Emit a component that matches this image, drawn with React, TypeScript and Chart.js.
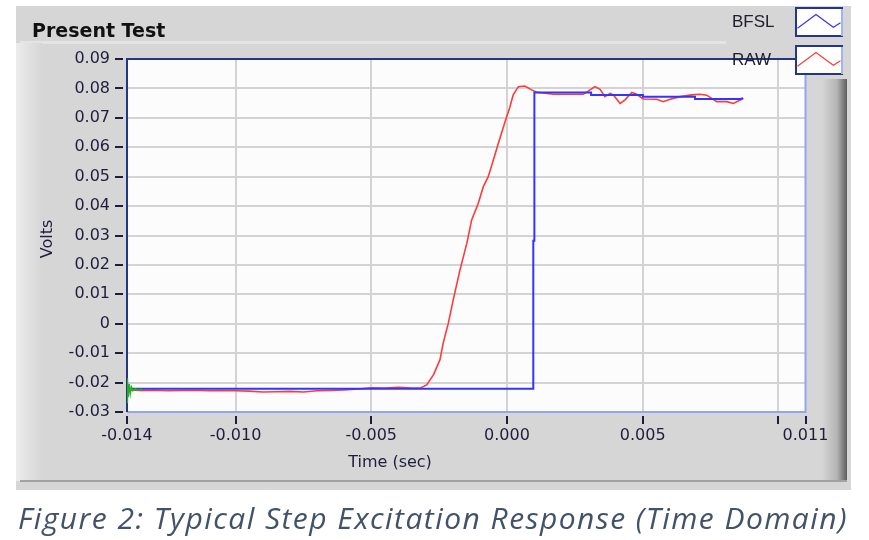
import React, { useEffect, useRef } from 'react';
import { Chart, registerables } from 'chart.js';

Chart.register(...registerables);

// ---- axis ticks ----
const xTickValues = [-0.014, -0.01, -0.005, 0.0, 0.005, 0.01, 0.011];
const xTickLabels = ['-0.014', '-0.010', '-0.005', '0.000', '0.005', '', '0.011'];
const yTickValues = [-0.03, -0.02, -0.01, 0, 0.01, 0.02, 0.03, 0.04, 0.05, 0.06, 0.07, 0.08, 0.09];
const yTickLabels = ['-0.03', '-0.02', '-0.01', '0', '0.01', '0.02', '0.03', '0.04', '0.05', '0.06', '0.07', '0.08', '0.09'];

// ---- series ----
const seriesNames = ['BFSL', 'RAW'];

const rawTime = [
  -0.014, -0.0135, -0.013, -0.0125, -0.012, -0.0115, -0.011, -0.0105, -0.01, -0.0095, -0.009, -0.0085,
  -0.008, -0.0075, -0.007, -0.0065, -0.006, -0.0055, -0.005, -0.0045, -0.004, -0.0035, -0.0032, -0.00296,
  -0.00271, -0.00247, -0.00235, -0.00216, -0.00198, -0.00173, -0.00148, -0.0013, -0.00106, -0.00087,
  -0.00069, -0.0005, -0.00032, -0.00007, 0.00011, 0.00023, 0.00042, 0.00066, 0.00091, 0.0011, 0.00171,
  0.00281, 0.00306, 0.00324, 0.00343, 0.00361, 0.0038, 0.00392, 0.00417, 0.00435, 0.0046, 0.00478,
  0.00502, 0.00552, 0.00576, 0.00601, 0.00638, 0.00681, 0.00711, 0.00736, 0.00773, 0.0081, 0.00834,
  0.00852, 0.00871,
];
const rawVolts = [
  -0.0225, -0.0227, -0.0226, -0.0228, -0.0227, -0.0226, -0.0228, -0.0227, -0.0228, -0.0229, -0.0232, -0.0231,
  -0.023, -0.0232, -0.0228, -0.0227, -0.0225, -0.0222, -0.0218, -0.0219, -0.0216, -0.0219, -0.0219, -0.0208,
  -0.0174, -0.0123, -0.0066, 0.0002, 0.0081, 0.0183, 0.0273, 0.0353, 0.0409, 0.0466,
  0.05, 0.0557, 0.0613, 0.0687, 0.0738, 0.0778, 0.0806, 0.0808, 0.0795, 0.0787, 0.078,
  0.078, 0.0795, 0.0806, 0.0797, 0.0772, 0.0783, 0.0778, 0.0749, 0.0761, 0.0786, 0.078,
  0.0764, 0.0763, 0.0755, 0.0763, 0.0772, 0.0778, 0.078, 0.0777, 0.0755, 0.0755, 0.0749,
  0.0757, 0.0766,
];

const bfslTime = [-0.014, 0.00097, 0.00097, 0.00101, 0.00101, 0.0031, 0.0031, 0.00501, 0.00501, 0.00693, 0.00693, 0.0086, 0.0087];
const bfslVolts = [-0.0221, -0.0221, 0.0282, 0.0282, 0.0786, 0.0786, 0.0778, 0.0778, 0.0772, 0.0772, 0.0764, 0.0764, 0.0767];

const ringTime = [-0.014, -0.01399, -0.01398, -0.01396, -0.01392, -0.01388, -0.01384, -0.01378, -0.0137, -0.0136, -0.01345];
const ringVolts = [-0.0185, -0.027, -0.019, -0.025, -0.0205, -0.0238, -0.0215, -0.0228, -0.0221, -0.0225, -0.0223];

const TEXT_COLOR = '#1e1e3c';
const TICK_FONT = '"DejaVu Sans", sans-serif';

const toPoints = (xs: number[], ys: number[]) => xs.map((x, i) => ({ x, y: ys[i] }));

const panelPlugin = {
  id: 'labviewPanel',
  beforeDraw(chart: any) {
    const { ctx, chartArea: a } = chart;
    ctx.save();
    ctx.fillStyle = '#ffffff';
    ctx.fillRect(0, 0, chart.width, chart.height);
    ctx.fillStyle = '#d6d6d6';
    ctx.fillRect(16, 6, 835, 484);
    // frame top highlight
    ctx.fillStyle = '#e4e4e4';
    ctx.fillRect(20, 41, 826, 3);
    // left highlight strip
    const gl = ctx.createLinearGradient(16, 0, 42, 0);
    gl.addColorStop(0, '#ececec');
    gl.addColorStop(1, '#d6d6d6');
    ctx.fillStyle = gl;
    ctx.fillRect(16, 43, 26, 438);
    // right shaded strip
    const gr = ctx.createLinearGradient(822, 0, 847, 0);
    gr.addColorStop(0, '#d6d6d6');
    gr.addColorStop(0.6, '#b4b4b4');
    gr.addColorStop(1, '#5e5e5e');
    ctx.fillStyle = gr;
    ctx.fillRect(822, 79, 25, 402);
    // bottom frame line
    ctx.fillStyle = '#a2a2a2';
    ctx.fillRect(20, 480, 827, 2);
    // legend area
    ctx.fillStyle = '#d6d6d6';
    ctx.fillRect(726, 6, 125, 73);
    // plot background
    ctx.fillStyle = '#fcfcfc';
    ctx.fillRect(a.left, a.top, a.right - a.left, a.bottom - a.top);
    ctx.restore();
  },
  beforeDatasetsDraw(chart: any) {
    const { ctx, chartArea: a } = chart;
    ctx.save();
    ctx.lineWidth = 2;
    ctx.strokeStyle = '#8fa6f0';
    ctx.beginPath();
    ctx.moveTo(a.right, a.top);
    ctx.lineTo(a.right, a.bottom);
    ctx.lineTo(a.left, a.bottom);
    ctx.stroke();
    ctx.strokeStyle = '#24358a';
    ctx.beginPath();
    ctx.moveTo(a.left, a.bottom);
    ctx.lineTo(a.left, a.top);
    ctx.lineTo(a.right, a.top);
    ctx.stroke();
    ctx.restore();
  },
  afterDraw(chart: any) {
    const { ctx } = chart;
    const xs = chart.scales.x;
    const ys = chart.scales.y;
    ctx.save();
    // tick marks
    ctx.fillStyle = TEXT_COLOR;
    yTickValues.forEach((v) => {
      const py = ys.getPixelForValue(v);
      ctx.fillRect(115, Math.round(py) - 1, 8, 2);
    });
    xTickValues.forEach((v) => {
      const px = xs.getPixelForValue(v);
      ctx.fillRect(Math.round(px) - 1, 416, 2, 8);
    });
    // axis titles
    ctx.font = `16px ${TICK_FONT}`;
    ctx.textAlign = 'center';
    ctx.textBaseline = 'middle';
    ctx.fillText('Time (sec)', 390, 463);
    ctx.save();
    ctx.translate(47.5, 239);
    ctx.rotate(-Math.PI / 2);
    ctx.fillText('Volts', 0, 0);
    ctx.restore();
    // graph title
    ctx.font = `bold 19px ${TICK_FONT}`;
    ctx.textAlign = 'left';
    ctx.textBaseline = 'alphabetic';
    ctx.fillStyle = '#111111';
    ctx.fillText('Present Test', 32, 37);
    // legend
    seriesNames.forEach((name, i) => {
      const ds = chart.data.datasets.find((d: any) => d.label === name);
      const y0 = 7 + i * 38;
      ctx.font = '17px "Liberation Sans", sans-serif';
      ctx.fillStyle = '#1e1e2e';
      ctx.textAlign = 'left';
      ctx.textBaseline = 'middle';
      ctx.fillText(name, 732, y0 + 15);
      ctx.fillStyle = '#ffffff';
      ctx.fillRect(795, y0, 48, 30);
      ctx.lineWidth = 2;
      ctx.strokeStyle = '#24358a';
      ctx.strokeRect(796, y0 + 1, 46, 28);
      ctx.fillStyle = '#9fb4f2';
      ctx.fillRect(841, y0 + 2, 2, 27);
      ctx.strokeStyle = ds ? ds.borderColor : '#000';
      ctx.lineWidth = 1.2;
      ctx.beginPath();
      ctx.moveTo(797.5, y0 + 21.3);
      ctx.lineTo(816, y0 + 7.5);
      ctx.lineTo(833.3, y0 + 20.3);
      ctx.lineTo(840.5, y0 + 15.7);
      ctx.stroke();
    });
    ctx.restore();
  },
};

export default function App() {
  const canvasRef = useRef<HTMLCanvasElement | null>(null);

  useEffect(() => {
    document.body.style.margin = '0';
    const canvas = canvasRef.current;
    if (!canvas) return;
    const chart = new Chart(canvas, {
      type: 'scatter',
      data: {
        datasets: [
          {
            label: 'RAW',
            data: toPoints(rawTime, rawVolts),
            showLine: true,
            borderColor: '#ff3a3a',
            backgroundColor: '#ff3a3a',
            borderWidth: 1.6,
            pointRadius: 0,
            tension: 0,
            order: 2,
          },
          {
            label: 'BFSL',
            data: toPoints(bfslTime, bfslVolts),
            showLine: true,
            borderColor: '#3434ff',
            backgroundColor: '#3434ff',
            borderWidth: 2,
            pointRadius: 0,
            tension: 0,
            order: 1,
          },
          {
            label: 'ring',
            data: toPoints(ringTime, ringVolts),
            showLine: true,
            borderColor: '#22b022',
            backgroundColor: '#22b022',
            borderWidth: 1.5,
            pointRadius: 0,
            tension: 0,
            order: 0,
          },
        ],
      },
      options: {
        responsive: false,
        animation: false,
        layout: { padding: { left: 0, top: 59, right: 63.5, bottom: 68 } },
        plugins: { legend: { display: false }, tooltip: { enabled: false }, title: { display: false } },
        scales: {
          x: {
            type: 'linear',
            min: -0.014,
            max: 0.011,
            afterBuildTicks: (s: any) => {
              s.ticks = xTickValues.map((v) => ({ value: v }));
            },
            afterFit: (s: any) => {
              s.height = 60;
            },
            grid: {
              drawTicks: false,
              lineWidth: 2,
              color: (c: any) => (c.index === 0 || c.index === xTickValues.length - 1 ? 'rgba(0,0,0,0)' : '#d3d3d3'),
            },
            border: { display: false },
            ticks: {
              autoSkip: false,
              maxRotation: 0,
              padding: 14,
              color: TEXT_COLOR,
              font: { family: TICK_FONT, size: 16 },
              callback: (_v: any, i: number) => xTickLabels[i],
            },
          },
          y: {
            type: 'linear',
            min: -0.03,
            max: 0.09,
            afterBuildTicks: (s: any) => {
              s.ticks = yTickValues.map((v) => ({ value: v }));
            },
            afterFit: (s: any) => {
              s.width = 127;
            },
            grid: {
              drawTicks: false,
              lineWidth: 2,
              color: (c: any) => (c.index === 0 || c.index === yTickValues.length - 1 ? 'rgba(0,0,0,0)' : '#d3d3d3'),
            },
            border: { display: false },
            ticks: {
              autoSkip: false,
              padding: 17,
              color: TEXT_COLOR,
              font: { family: TICK_FONT, size: 16 },
              callback: (_v: any, i: number) => yTickLabels[i],
            },
          },
        },
      },
      plugins: [panelPlugin],
    });
    return () => chart.destroy();
  }, []);

  return (
    <div style={{ position: 'relative', width: 869, height: 540, overflow: 'hidden', background: '#fff' }}>
      <canvas ref={canvasRef} width={869} height={540} style={{ display: 'block' }} />
      <div
        style={{
          position: 'absolute',
          left: 18,
          top: 500,
          font: 'italic 400 30px "Open Sans", sans-serif',
          lineHeight: '36px',
          color: '#42526a',
          whiteSpace: 'nowrap',
          letterSpacing: '1.45px',
        }}
      >
        Figure 2: Typical Step Excitation Response (Time Domain)
      </div>
    </div>
  );
}
